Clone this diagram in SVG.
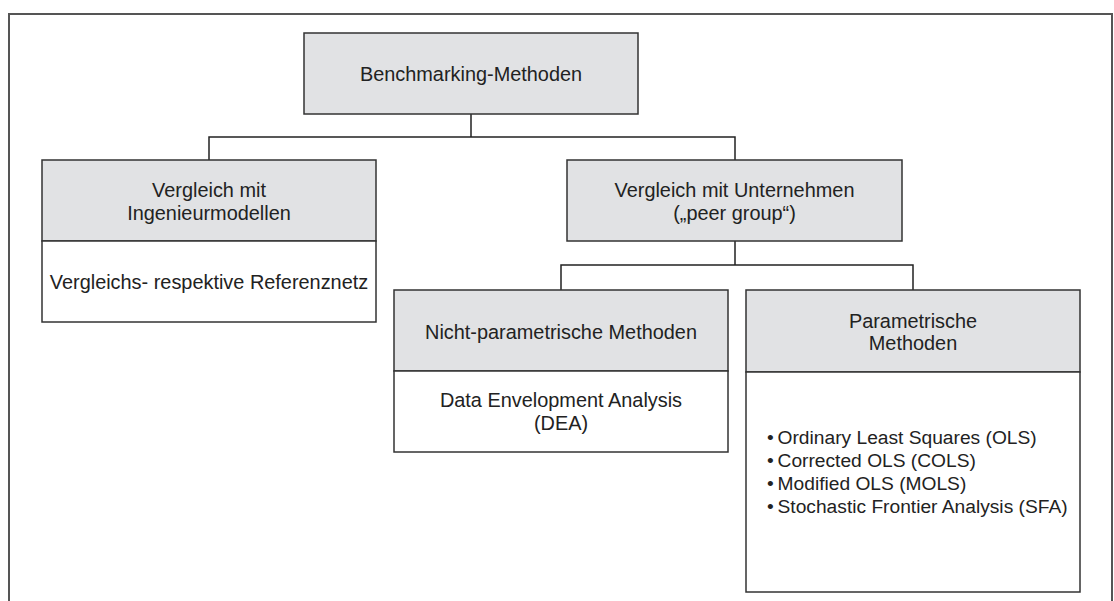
<svg xmlns="http://www.w3.org/2000/svg" width="1114" height="601" viewBox="0 0 1114 601">
<style>
.frame{fill:none;stroke:#555;stroke-width:2}
.hdr{fill:#e1e2e4;stroke:#333;stroke-width:1.5}
.body{fill:#fff;stroke:#333;stroke-width:1.5}
.con{fill:none;stroke:#222;stroke-width:1.5}
text{font-family:"Liberation Sans",Arial,sans-serif;font-size:19.9px;fill:#222}
.c{text-anchor:middle}
.b{font-size:19.2px}
</style>
<rect width="1114" height="601" fill="#fff"/>
<path class="frame" d="M9,601 V14 H1112 V601"/>
<g id="connectors">
<path class="con" d="M471,114 V137 M209,160 V137 H735 V160"/>
<path class="con" d="M735,241 V265 M561,290 V265 H913 V290"/>
</g>
<g id="root">
<rect class="hdr" x="304" y="33" width="334" height="81"/>
<text class="c" x="471" y="81">Benchmarking-Methoden</text>
</g>
<g id="ingenieur">
<rect class="hdr" x="42" y="160" width="334" height="81"/>
<rect class="body" x="42" y="241" width="334" height="81"/>
<text class="c" x="209" y="196.5">Vergleich mit</text>
<text class="c" x="209" y="220">Ingenieurmodellen</text>
<text class="c" x="209" y="288.5">Vergleichs- respektive Referenznetz</text>
</g>
<g id="unternehmen">
<rect class="hdr" x="567" y="160" width="335" height="81"/>
<text class="c" x="734.5" y="196.5">Vergleich mit Unternehmen</text>
<text class="c" x="734.5" y="220">(„peer group“)</text>
</g>
<g id="nichtparametrisch">
<rect class="hdr" x="394" y="290" width="334" height="81"/>
<rect class="body" x="394" y="371" width="334" height="81"/>
<text class="c" x="561" y="338.5">Nicht-parametrische Methoden</text>
<text class="c" x="561" y="406.5">Data Envelopment Analysis</text>
<text class="c" x="561" y="430">(DEA)</text>
</g>
<g id="parametrisch">
<rect class="hdr" x="746" y="290" width="334" height="82"/>
<rect class="body" x="746" y="372" width="334" height="220"/>
<text class="c" x="913" y="327.5">Parametrische</text>
<text class="c" x="913" y="349.5">Methoden</text>
<text class="b" x="767" y="443.5">•<tspan dx="-1.5"> Ordinary Least Squares (OLS)</tspan></text>
<text class="b" x="767" y="466.8">•<tspan dx="-1.5"> Corrected OLS (COLS)</tspan></text>
<text class="b" x="767" y="490">•<tspan dx="-1.5"> Modified OLS (MOLS)</tspan></text>
<text class="b" x="767" y="513.3">•<tspan dx="-1.5"> Stochastic Frontier Analysis (SFA)</tspan></text>
</g>
</svg>
